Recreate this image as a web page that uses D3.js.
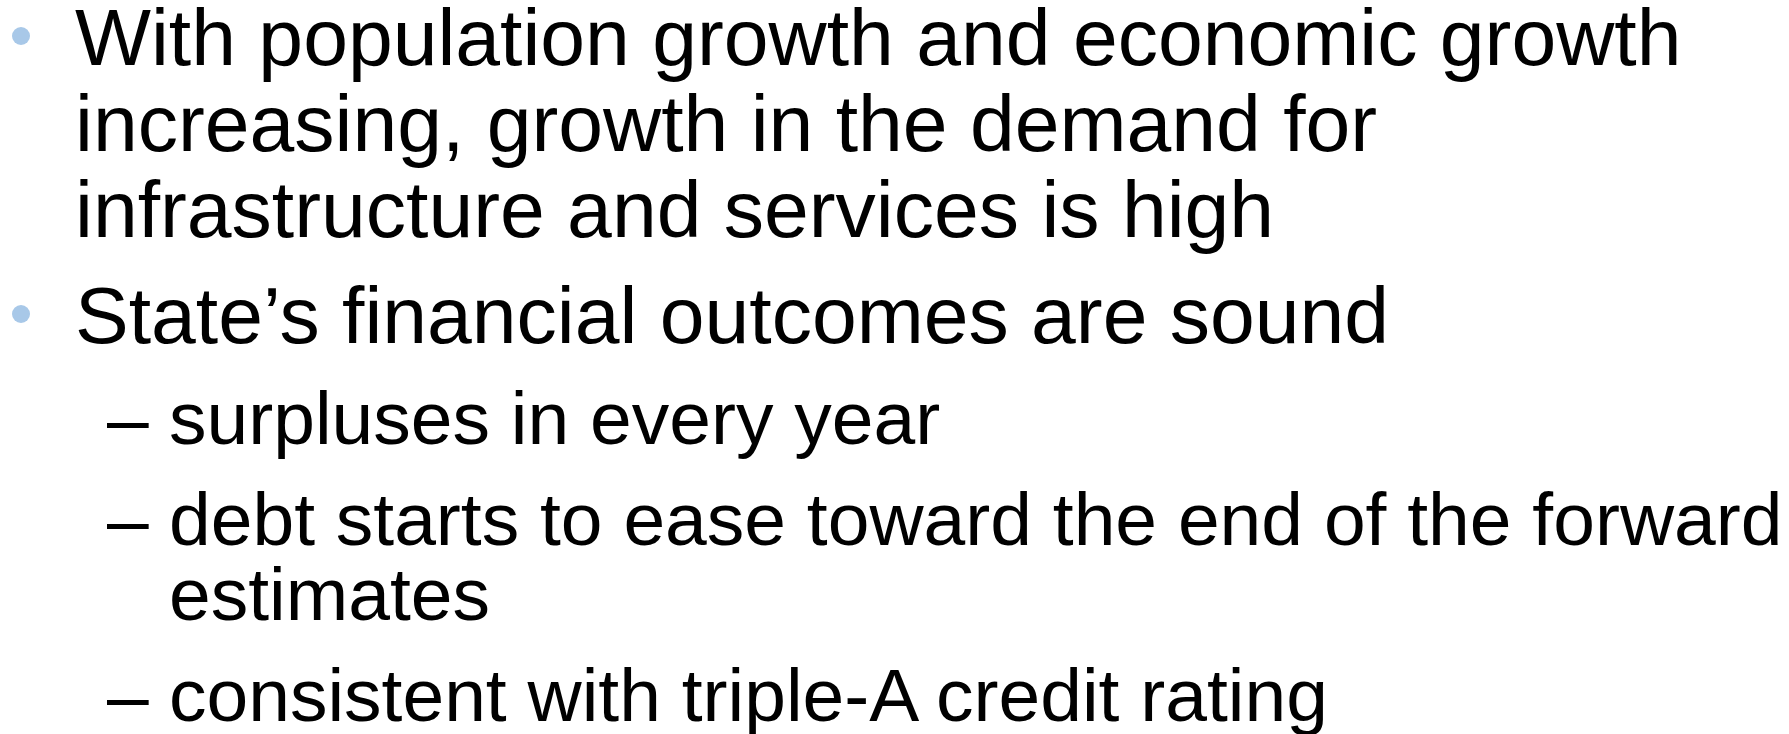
<!DOCTYPE html>
<html>
<head>
<meta charset="utf-8">
<script src="https://cdn.jsdelivr.net/npm/d3@7"></script>
<style>
  html, body { margin: 0; padding: 0; background: #fff; overflow: hidden; }
  text { font-family: "Liberation Sans", Arial, Helvetica, sans-serif; fill: #000; }
</style>
</head>
<body>
<script>
// slide text, one array per paragraph
var para1 = ["With population growth and economic growth",
             "increasing, growth in the demand for",
             "infrastructure and services is high"];
var para2 = ["State\u2019s financial outcomes are sound"];
var sub1 = ["surpluses in every year"];
var sub2 = ["debt starts to ease toward the end of the forward",
            "estimates"];
var sub3 = ["consistent with triple-A credit rating"];

var levels = [1, 1, 2, 2, 2];
var paragraphs = [para1, para2, sub1, sub2, sub3];

var width = 1789,
    height = 734;

// per level: font size, line step, space before paragraph, marker x, text x
var style = {
  1: {size: 80.5, step: 86, gap: 20, mx: 21, x: 75},
  2: {size: 75, step: 75, gap: 26, mx: 107, x: 169}
};
var firstBaseline = 65;
var bulletColor = "#a8c8e8";

var svg = d3.select("body").append("svg")
    .attr("width", width)
    .attr("height", height);

// work out baselines
var rows = [];
var y = firstBaseline;
paragraphs.forEach(function(p, pi) {
  var lv = levels[pi], s = style[lv];
  if (pi > 0) y += s.step + s.gap;
  p.forEach(function(line, li) {
    if (li > 0) y += s.step;
    rows.push({level: lv, text: line, y: y, first: li == 0});
  });
});

var g = svg.append("g");

// bullets on level 1
g.selectAll("circle")
  .data(rows.filter(function(d) { return d.level == 1 && d.first; }))
  .enter().append("circle")
  .attr("cx", style[1].mx)
  .attr("cy", function(d) { return d.y - 29; })
  .attr("r", 9)
  .style("fill", bulletColor);

// dashes on level 2
g.selectAll("text.dash")
  .data(rows.filter(function(d) { return d.level == 2 && d.first; }))
  .enter().append("text")
  .attr("class", "dash")
  .attr("x", style[2].mx)
  .attr("y", function(d) { return d.y; })
  .style("font-size", style[2].size + "px")
  .text("\u2013");

g.selectAll("text.line")
  .data(rows)
  .enter().append("text")
  .attr("class", "line")
  .attr("x", function(d) { return style[d.level].x; })
  .attr("y", function(d) { return d.y; })
  .style("font-size", function(d) { return style[d.level].size + "px"; })
  .text(function(d) { return d.text; });
</script>
</body>
</html>
